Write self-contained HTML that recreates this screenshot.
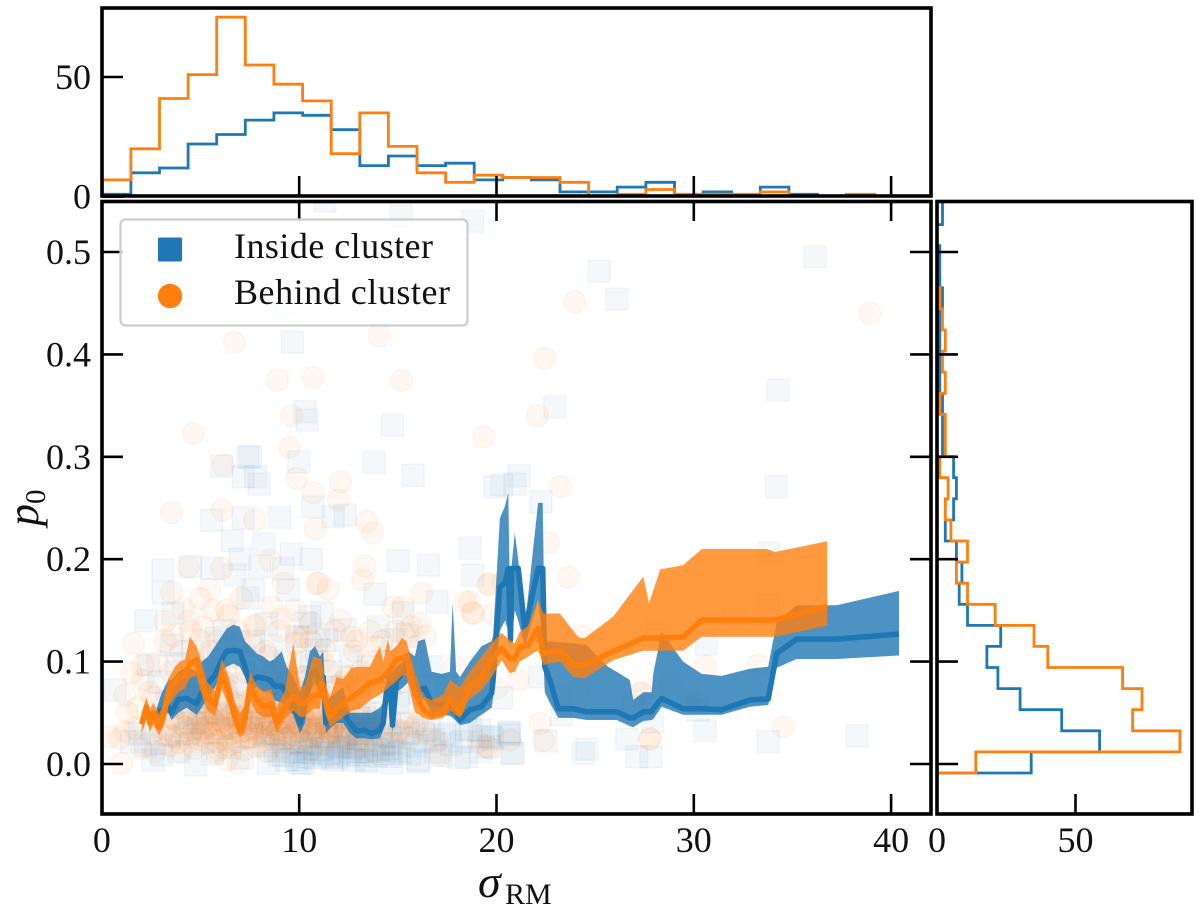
<!DOCTYPE html>
<html lang="en">
<head>
<meta charset="utf-8">
<title>p0 versus sigma RM</title>
<style>
html,body{margin:0;padding:0;background:#fff;width:1200px;height:906px;overflow:hidden}
svg{display:block}
text{font-family:"Liberation Serif","DejaVu Serif",serif;fill:#111}
.tick-label{font-size:36px}
</style>
</head>
<body>
<svg id="chart" xmlns="http://www.w3.org/2000/svg" width="1200" height="906" viewBox="0 0 1200 906">
  <defs>
    <clipPath id="clip-main"><rect x="102" y="201" width="829" height="613"/></clipPath>
    <clipPath id="clip-top"><rect x="102" y="8" width="829" height="188"/></clipPath>
    <clipPath id="clip-right"><rect x="937" y="201" width="255" height="613"/></clipPath>
  </defs>
  <g id="main-scatter" clip-path="url(#clip-main)"></g>
  <g id="main-bands" clip-path="url(#clip-main)"></g>
  <g id="top-hist" clip-path="url(#clip-top)"></g>
  <g id="right-hist" clip-path="url(#clip-right)"></g>
  <g id="ticks"></g>
  <rect x="102" y="8" width="829" height="188" fill="none" stroke="#000" stroke-width="3.6"/>
  <rect x="102" y="201.5" width="829" height="612.5" fill="none" stroke="#000" stroke-width="3.6"/>
  <rect x="937" y="201.5" width="255" height="612.5" fill="none" stroke="#000" stroke-width="3.6"/>
  <text x="478" y="897" font-size="46" font-style="italic">σ</text>
  <text x="505" y="904" font-size="30">RM</text>
  <g transform="translate(38,526) rotate(-90)">
    <text x="0" y="0" font-size="44" font-style="italic">p</text>
    <text x="22" y="7" font-size="29">0</text>
  </g>
  <g>
    <rect x="120.5" y="219.5" width="347" height="106" rx="5" ry="5" fill="#fff" fill-opacity="0.8" stroke="#ccc" stroke-width="2.2"/>
    <rect x="158" y="237.5" width="24" height="24" rx="1.5" fill="#1f77b4"/>
    <text x="234" y="258" font-size="36" textLength="199" lengthAdjust="spacing">Inside cluster</text>
    <circle cx="170" cy="296" r="12.2" fill="#ff7f0e"/>
    <text x="234" y="304" font-size="36" textLength="216" lengthAdjust="spacing">Behind cluster</text>
  </g>
</svg>
<script>
// ---- chart data -------------------------------------------------------
const xTicks = [0, 10, 20, 30, 40];
const yTicks = [0.0, 0.1, 0.2, 0.3, 0.4, 0.5];
const yTickLabels = ["0.0", "0.1", "0.2", "0.3", "0.4", "0.5"];
const topCountTicks = [0, 50];
const rightCountTicks = [0, 50];

const topBinStart = 0.02, topBinWidth = 1.45;
const topInside = [1,10,12,22,26,32,35,34,28,13,17,13,14,7,8,7,2,2,4,6,0,2,0,4,1,0,0,0];
const topBehind = [7,20,41,51,75,55,47,40,18,35,21,10,6,9,8,8,6,0,1,3,1,1,1,2,0,0,1,0];

const rightBinStart = -0.0088, rightBinWidth = 0.0206;
const rightInside = [34,58.7,45,30,22,18,23,11,8,9,7,3,6,7,6,2,2,2,1,1,1,1,2,1,1,0,2,2];
const rightBehind = [14,87.7,70.6,74,67,40,35,21,11,7,11,5,3,4,1,3,3,1,3,2,3,2,1,0,0,0,0,0];

const insideSigma = [9.66,10.29,10.4,14.73,6.07,7.4,7.53,9.98,13.79,15.78,7.16,7.79,7.97,19.92,20.26,5.56,7.16,9.02,10.71,11.72,12.32,11.3,15.15,18.79,9.3,25.2,26.1,36.15,22.96,34.28,21.14,20.93,22.25,34.18,33.8,33.75,32.1,30.64,28.15,30.2,30.56,33.77,38.27,27.9,26.6,27.83,27.1,18.65,18.79,20.26,22.2,19.16,19.33,20.65,20.78,22.5,24.58,24.4,23.3,26.9,13.84,16.99,15,16.54,11.15,12.3,14,14.75,15.27,16.7,11.39,10.54,11.64,13.4,14.6,14.7,16.03,17.38,18.48,18.48,19.67,20.68,20.85,3.1,4.5,5.56,6.74,8,9.2,3.1,2.23,3.6,7.67,9.45,5.8,7.4,8.35,9.87,10.54,3.53,2.35,0.66,10.3,10.88,1.5,2.69,3.03,2.6,4.76,8.43,9.87,10.46,10.2,9.36,10.04,11.7,12.74,13.42,16.03,19.6,20.6,8.2,6.6,7,9.6,10.6,1.9,2.2,3.4,3.9,4.3,5.1,5.6,6.1,6.5,7.1,7.6,8.1,8.8,9.1,9.5,10.1,10.7,11.1,11.4,12,12.3,12.8,13.1,13.7,14.2,14.9,15.2,15.6,16.4,16.9,17.7,18.1,11.5,11.9,12.1,12.5,13,13.2,13.9,14.3,14.5,9,9.7,10.4,10.8,2.9,3.3,3.8,4.2,4.6,5,5.4,5.9,6.2,6.8,7.2,7.7,8.1,8.6,9,9.3,9.9,10.2,10.6,11,11.6,12,12.6,13,13.5,14.1,14.4,15,15.5,16.1,17.4,18.8,4.4,4.9,5.3,6.4,7,7.9,8.4,8.9,10.9,11.8,12.4,13.3,15.4,16.6];
const insideP0 = [0.412,0.344,0.336,0.331,0.291,0.3,0.2995,0.295,0.2945,0.282,0.2806,0.2806,0.2734,0.2705,0.2725,0.238,0.24,0.241,0.251,0.2415,0.243,0.55,0.535,0.53,0.45,0.4814,0.4538,0.4954,0.349,0.3652,0.2815,0.2734,0.2559,0.2708,0.2057,0.155,0.1429,0.1172,0.1292,0.0527,0.0325,0.0218,0.0273,0.0413,0.0244,0.0071,0.0071,0.2106,0.1846,0.0645,0.0853,0.0332,0.0267,0.0315,0.0107,0.0225,0.0144,0.0105,0.0479,0.056,0.1657,0.1585,0.1985,0.1943,0.1477,0.1309,0.134,0.121,0.1477,0.095,0.121,0.0107,0.0071,0.0039,0.0071,0.001,0.0039,0.028,0.0071,0.0332,0.0267,0.03,0.0105,0.1895,0.1927,0.191,0.1846,0.1927,0.191,0.1667,0.14,0.1471,0.17,0.17,0.1227,0.1618,0.1374,0.1243,0.1438,0.1162,0.0967,0.0723,0.1377,0.1113,0.0218,0.0202,0.0088,0.0039,-0.001,0.0007,0.0039,0.0071,0.001,0.0039,0.0007,0.0039,0.0039,0.0022,0.002,0.0169,0.0283,0.215,0.218,0.2,0.205,0.2,0.03,0.018,0.028,0.012,0.03,0.022,0.01,0.035,0.016,0.006,0.027,0.04,0.013,0.025,0.045,0.02,0.033,0.014,0.027,0.01,0.021,0.016,0.03,0.012,0.019,0.013,0.026,0.01,0.022,0.012,0.019,0.006,0.011,0.006,0.017,0.008,0.009,0.012,0.008,0.01,0.015,0.009,0.012,0.015,0.006,0.08,0.06,0.098,0.075,0.11,0.088,0.06,0.1,0.13,0.078,0.105,0.12,0.09,0.115,0.07,0.1,0.085,0.06,0.1,0.125,0.09,0.075,0.105,0.065,0.095,0.07,0.1,0.06,0.125,0.07,0.075,0.06,0.045,0.035,0.05,0.048,0.04,0.055,0.03,0.06,0.05,0.045,0.035,0.05,0.04,0.035];
const insideDenseSigma = [8.3,8.7,9.2,9.5,9.9,10.3,10.6,10.9,11.2,11.6,
12.0,12.3,12.6,13.0,13.3,13.6,14.0,14.3,14.7,15.1,
15.5,15.9,16.3,16.8,17.2,17.6,18.2,18.7,19.2,19.8,
3.5,4.1,4.7,5.3,5.8,6.3,6.9,7.4,8.0,8.6,
9.2,9.8,10.3,11.0,11.7,12.4,13.1,13.8,14.6,15.3];
const insideDenseP0 = [0.018,0.03,0.008,0.022,0.035,0.012,0.028,0.02,0.009,0.032,
0.016,0.03,0.012,0.025,0.018,0.034,0.014,0.027,0.02,0.011,
0.03,0.018,0.033,0.024,0.008,0.03,0.022,0.034,0.012,0.025,
0.055,0.07,0.04,0.065,0.05,0.075,0.06,0.045,0.068,0.052,
0.078,0.042,0.07,0.036,0.06,0.028,0.075,0.045,0.038,0.068];

const behindSigma = [6.71,14.05,8.89,10.71,15.19,4.63,9.62,19.36,9.5,6.15,9.87,12.1,10.71,11.98,6.1,3.53,7.75,13.42,10.8,13.74,23.96,38.93,22.45,22.07,23.23,22.63,23.65,19.58,20.34,18.65,18.82,19.83,24.38,24.2,23.2,21.1,20,22.2,22.37,20.68,19.07,19.67,27.77,27.36,28.79,29.7,30.14,30.6,33.26,27.32,27.78,34.53,10.96,11.47,13.21,13.33,16.2,18.43,18.77,19.63,14.76,15.27,16.12,15.7,17.89,15.1,12.65,12.4,13.92,10.2,15.1,15.86,17.13,19.5,1.59,3.53,4.97,5.47,6.07,4.37,8.5,9.19,8.6,9.78,10.88,7.08,3.19,4.12,6.32,7.84,9.87,2.09,1.51,2.09,1.17,0.41,1.17,1,1.67,5.14,4.97,6.91,6.32,5.9,3.1,3.4,3.6,3.8,4,4.1,4.3,4.4,4.6,4.7,4.9,5,5.2,5.3,5.4,5.6,5.7,5.8,6,6.1,6.2,6.4,6.5,6.6,6.8,6.9,7,7.2,7.3,7.4,7.5,7.7,7.8,7.9,8,8.2,8.3,8.4,8.6,8.7,8.8,9,9.1,9.2,9.4,9.5,9.6,9.8,9.9,10,10.2,10.3,10.5,10.6,10.8,10.9,11,11.2,11.3,11.5,11.6,11.8,12,12.1,12.3,12.5,12.7,12.9,13,13.2,13.4,13.6,13.8,14,14.2,14.4,14.7,15,15.3,15.6,16,16.5,17,5.1,5.5,5.9,6.3,6.7,7.1,7.6,8.1,8.5,8.9,9.3,9.7,10.1,10.4,10.7,11.1,11.4,11.7,1.8,2.4,2.8,3.2,3.5,4,4.5,4.9,5.2,5.6,5.9,6.2,6.6,6.9,7.3,7.7,8,8.3,8.7,9,9.4,9.9,10.3,10.6,11.2,11.8,12.2,12.8,13.1,13.7,14.3,14.9,15.4,2,2.5,2.7,1.3,0.9];
const behindP0 = [0.4118,0.4183,0.3747,0.3773,0.3747,0.323,0.3401,0.3196,0.3093,0.292,0.279,0.2757,0.2649,0.2578,0.248,0.2454,0.2383,0.2366,0.23,0.2256,0.4512,0.4398,0.3962,0.3401,0.2708,0.2161,0.1823,0.1755,0.178,0.1585,0.1471,0.1462,0.125,0.0739,0.0657,0.082,0.0739,0.0397,0.0234,0.0234,0.0218,0.0153,0.0251,0.069,0.0771,0.0625,0.0608,0.0957,0.0967,0.069,0.0241,0.0364,0.1765,0.1706,0.1797,0.1934,0.1667,0.1585,0.1477,0.1758,0.1536,0.1536,0.1374,0.134,0.095,0.079,0.1243,0.0853,0.1146,0.1243,0.033,0.0364,0.0088,0.0169,0.1179,0.1677,0.1618,0.1709,0.191,0.1927,0.1992,0.1765,0.1536,0.1504,0.1765,0.1618,0.139,0.152,0.1504,0.1357,0.1243,0.0967,0.0886,0.082,0.0674,0.0267,0.0315,0.0007,0.035,0.134,0.121,0.0007,0.0039,0.0137,0.03,0.018,0.045,0.026,0.012,0.038,0.052,0.022,0.033,0.015,0.047,0.028,0.06,0.036,0.02,0.044,0.03,0.011,0.052,0.024,0.038,0.018,0.046,0.03,0.058,0.022,0.04,0.014,0.033,0.05,0.025,0.042,0.017,0.032,0.055,0.027,0.04,0.012,0.035,0.05,0.022,0.043,0.03,0.016,0.048,0.026,0.037,0.02,0.055,0.032,0.044,0.024,0.038,0.014,0.05,0.03,0.042,0.02,0.035,0.052,0.028,0.04,0.018,0.033,0.046,0.025,0.038,0.015,0.044,0.03,0.022,0.038,0.012,0.05,0.028,0.04,0.02,0.032,0.045,0.025,0.04,0.03,0.022,0.041,0.037,0.043,0.035,0.04,0.046,0.036,0.044,0.038,0.034,0.04,0.046,0.036,0.042,0.034,0.04,0.037,0.033,0.055,0.07,0.1,0.12,0.09,0.11,0.13,0.075,0.1,0.15,0.12,0.08,0.105,0.13,0.09,0.115,0.075,0.11,0.09,0.13,0.08,0.1,0.085,0.12,0.1,0.13,0.08,0.11,0.09,0.1,0.085,0.13,0.1,0.015,0.03,0.012,0.05,0.025];
const behindDenseSigma = [3.2,3.3,3.5,3.7,3.9,4.0,4.2,4.3,4.5,4.6,
4.8,4.9,5.0,5.1,5.3,5.4,5.5,5.6,5.8,5.9,
6.0,6.1,6.3,6.4,6.5,6.6,6.7,6.9,7.0,7.1,
7.2,7.3,7.5,7.6,7.7,7.8,8.0,8.1,8.2,8.3,
8.4,8.5,8.7,8.8,8.9,9.0,9.1,9.3,9.4,9.5,
9.6,9.7,9.8,10.0,10.1,10.2,10.3,10.4,10.6,10.7,
10.8,10.9,11.0,11.2,11.3,11.4,11.6,11.7,11.8,12.0,
12.2,12.4,12.5,12.7,12.9,13.1,13.3,13.5,13.8,14.1,
4.1,4.7,5.2,5.7,6.2,6.8,7.4,7.9,8.6,9.2,
9.9,10.5,11.1,11.5,11.9,12.3,12.6,13.0,13.7,14.6,
3.6,4.4,5.5,6.4,7.0,7.7,8.4,9.1,9.8,10.6,
11.3,12.1,12.9,13.6,14.2,14.8,15.3,15.9,16.4,2.6];
const behindDenseP0 = [0.034,0.052,0.027,0.043,0.021,0.06,0.036,0.048,0.028,0.066,
0.04,0.024,0.055,0.033,0.045,0.069,0.03,0.05,0.022,0.038,
0.058,0.042,0.027,0.064,0.035,0.048,0.02,0.044,0.031,0.056,
0.038,0.025,0.062,0.034,0.047,0.029,0.041,0.054,0.023,0.036,
0.06,0.043,0.028,0.05,0.033,0.067,0.04,0.025,0.052,0.036,
0.044,0.029,0.058,0.038,0.022,0.048,0.034,0.062,0.041,0.027,
0.053,0.036,0.046,0.024,0.058,0.039,0.03,0.05,0.037,0.026,
0.044,0.032,0.055,0.038,0.024,0.047,0.034,0.042,0.03,0.04,
0.072,0.08,0.068,0.085,0.075,0.09,0.07,0.082,0.078,0.088,
0.072,0.083,0.069,0.091,0.076,0.065,0.086,0.073,0.081,0.07,
0.125,0.14,0.11,0.145,0.12,0.135,0.105,0.142,0.118,0.138,
0.112,0.14,0.12,0.13,0.12,0.105,0.128,0.115,0.125,0.065];

const insideBandSigma = [2.77,3.02,3.36,3.53,3.87,4.29,4.8,5.05,5.39,5.73,6.07,6.32,6.66,6.99,7.25,7.5,7.84,8.18,8.51,8.77,9.11,9.36,9.7,10.04,10.29,10.54,10.8,11.05,11.22,11.35,11.56,11.9,12.23,12.57,12.91,13.33,13.67,14.09,14.26,14.43,14.6,14.73,14.93,15.27,15.53,15.86,16.03,16.37,16.71,17.22,17.64,17.78,17.95,18.15,18.65,19.24,19.75,19.83,20.17,20.43,20.6,20.71,20.77,20.93,21.1,21.44,22.11,22.34,22.45,22.7,23.13,23.89,24.57,25.65,26.09,26.76,26.93,27.44,27.86,27.95,28.37,29.46,30.4,31.41,32.84,33.77,34.2,35.21,37.24,40.4];
const insideMedian = [0.048,0.053,0.056,0.05,0.063,0.064,0.059,0.069,0.079,0.087,0.102,0.11,0.111,0.11,0.095,0.079,0.085,0.084,0.082,0.076,0.076,0.069,0.059,0.04,0.056,0.085,0.092,0.079,0.085,0.04,0.046,0.05,0.051,0.04,0.032,0.033,0.03,0.033,0.04,0.072,0.079,0.038,0.082,0.089,0.102,0.079,0.072,0.074,0.059,0.058,0.056,0.052,0.05,0.043,0.053,0.056,0.069,0.082,0.173,0.177,0.191,0.121,0.191,0.191,0.191,0.131,0.191,0.191,0.095,0.082,0.054,0.054,0.051,0.051,0.051,0.045,0.045,0.051,0.051,0.054,0.064,0.054,0.054,0.053,0.0625,0.0635,0.108,0.122,0.122,0.127];
const insideUpper = [0.054,0.069,0.082,0.082,0.09,0.095,0.09,0.1,0.105,0.115,0.125,0.132,0.136,0.134,0.12,0.115,0.108,0.105,0.1,0.103,0.11,0.095,0.085,0.07,0.085,0.11,0.115,0.105,0.11,0.06,0.065,0.07,0.075,0.05,0.05,0.05,0.05,0.055,0.06,0.085,0.09,0.09,0.095,0.1,0.11,0.105,0.12,0.122,0.09,0.088,0.09,0.158,0.09,0.085,0.1,0.115,0.12,0.125,0.24,0.252,0.265,0.125,0.195,0.226,0.2,0.135,0.255,0.255,0.12,0.12,0.119,0.118,0.116,0.095,0.09,0.082,0.0625,0.07,0.07,0.089,0.129,0.1,0.088,0.086,0.093,0.095,0.139,0.155,0.155,0.169];
const insideLower = [0.042,0.047,0.05,0.043,0.05,0.055,0.048,0.055,0.065,0.075,0.09,0.095,0.098,0.095,0.085,0.07,0.075,0.07,0.07,0.062,0.06,0.055,0.048,0.03,0.04,0.07,0.08,0.065,0.07,0.03,0.035,0.04,0.04,0.03,0.025,0.025,0.024,0.025,0.033,0.06,0.07,0.03,0.07,0.075,0.08,0.07,0.065,0.062,0.05,0.048,0.047,0.045,0.042,0.038,0.04,0.048,0.055,0.065,0.13,0.14,0.13,0.115,0.12,0.15,0.14,0.115,0.16,0.12,0.07,0.06,0.045,0.045,0.043,0.043,0.043,0.037,0.036,0.042,0.043,0.044,0.056,0.048,0.048,0.048,0.056,0.0576,0.094,0.1025,0.1025,0.106];

const behindBandSigma = [2.01,2.26,2.43,2.6,2.9,3.11,3.36,3.7,3.95,4.21,4.46,4.8,5.05,5.31,5.73,6.07,6.4,6.74,6.99,7.25,7.5,7.84,8.18,8.6,8.85,9.27,9.7,10.04,10.29,10.71,11.05,11.13,11.3,11.56,11.9,12.23,12.65,13.08,13.58,14.09,14.26,14.5,14.6,14.93,15.2,15.44,15.86,16.29,16.71,17.3,17.64,18.15,18.57,19.24,19.75,20.26,20.68,20.93,21.18,21.6,22.11,22.37,23.21,23.89,24.2,24.48,25.92,27.44,27.73,28.3,29.46,30.4,33.7,34.11,36.76];
const behindMedian = [0.039,0.056,0.04,0.05,0.036,0.046,0.069,0.08,0.085,0.087,0.098,0.102,0.082,0.066,0.058,0.089,0.072,0.046,0.033,0.043,0.076,0.063,0.056,0.059,0.04,0.056,0.066,0.059,0.059,0.067,0.067,0.079,0.063,0.046,0.054,0.059,0.065,0.071,0.079,0.082,0.085,0.09,0.092,0.102,0.103,0.105,0.069,0.053,0.048,0.05,0.064,0.05,0.074,0.085,0.102,0.113,0.103,0.103,0.1145,0.116,0.1325,0.108,0.111,0.097,0.097,0.097,0.11,0.123,0.123,0.123,0.124,0.1406,0.1406,0.1406,0.154];
const behindUpper = [0.05,0.065,0.053,0.06,0.049,0.059,0.083,0.095,0.1,0.102,0.124,0.115,0.1,0.081,0.071,0.103,0.087,0.061,0.049,0.057,0.09,0.077,0.071,0.073,0.055,0.071,0.118,0.075,0.077,0.105,0.103,0.103,0.08,0.065,0.085,0.083,0.094,0.095,0.095,0.115,0.1,0.122,0.11,0.115,0.123,0.12,0.09,0.066,0.0625,0.068,0.082,0.075,0.0886,0.105,0.118,0.128,0.121,0.118,0.129,0.135,0.16,0.147,0.147,0.13,0.123,0.123,0.144,0.183,0.157,0.19,0.194,0.21,0.21,0.207,0.2176];
const behindLower = [0.03,0.044,0.031,0.038,0.028,0.036,0.056,0.066,0.071,0.074,0.084,0.086,0.068,0.053,0.046,0.074,0.058,0.036,0.026,0.03,0.062,0.05,0.046,0.046,0.03,0.044,0.052,0.046,0.046,0.054,0.054,0.066,0.051,0.036,0.041,0.046,0.052,0.054,0.062,0.068,0.07,0.074,0.076,0.081,0.086,0.086,0.051,0.045,0.043,0.045,0.052,0.045,0.0625,0.072,0.085,0.1016,0.0886,0.09,0.1,0.105,0.111,0.0967,0.1,0.0853,0.084,0.0837,0.1016,0.1106,0.1106,0.1106,0.1106,0.1243,0.1243,0.1243,0.135];

// ---- axis functions ---------------------------------------------------
const SVGNS = "http://www.w3.org/2000/svg";
function xMain(s){ return 101.9 + s * 19.73; }
function yMain(p){ return 764 - p * 1024; }
function yTop(c){ return 196.7 - c * 2.394; }
function xRight(c){ return 937 + c * 2.77; }

function mk(tag, attrs, parent){
  const n = document.createElementNS(SVGNS, tag);
  for (const k in attrs) n.setAttribute(k, attrs[k]);
  parent.appendChild(n);
  return n;
}

// ---- scatter ----------------------------------------------------------
const scatterLayer = document.getElementById('main-scatter');
function drawInside(s, p){
  const cx = xMain(s), cy = yMain(p);
  const el = mk('rect', {x: cx - 11, y: cy - 11, width: 22, height: 22, fill: '#1f77b4', stroke: '#1f77b4',
    'fill-opacity': 0.05, 'stroke-opacity': 0.05, 'stroke-width': 1.5}, scatterLayer);
  
  
}
function drawBehind(s, p){
  const cx = xMain(s), cy = yMain(p);
  const el = mk('circle', {cx: cx, cy: cy, r: 11, fill: '#ff7f0e', stroke: '#ff7f0e',
    'fill-opacity': 0.06, 'stroke-opacity': 0.06, 'stroke-width': 1.5}, scatterLayer);
  
  
}
insideSigma.forEach(function(s, i){ drawInside(s, insideP0[i]); });
insideDenseSigma.forEach(function(s, i){ drawInside(s, insideDenseP0[i]); });
behindSigma.forEach(function(s, i){ drawBehind(s, behindP0[i]); });
behindDenseSigma.forEach(function(s, i){ drawBehind(s, behindDenseP0[i]); });

// ---- bands + running medians -----------------------------------------
function bandPath(sig, hi, lo){
  let d = '';
  sig.forEach(function(s, i){ d += (i ? 'L' : 'M') + xMain(s).toFixed(1) + ' ' + yMain(hi[i]).toFixed(1); });
  for (let i = sig.length - 1; i >= 0; i--) d += 'L' + xMain(sig[i]).toFixed(1) + ' ' + yMain(lo[i]).toFixed(1);
  return d + 'Z';
}
function linePts(sig, vals){
  return sig.map(function(s, i){ return xMain(s).toFixed(1) + ',' + yMain(vals[i]).toFixed(1); }).join(' ');
}
const bandLayer = document.getElementById('main-bands');
const insideBand = mk('path', {d: bandPath(insideBandSigma, insideUpper, insideLower), fill: '#1f77b4', 'fill-opacity': 0.8}, bandLayer);


const insideLine = mk('polyline', {points: linePts(insideBandSigma, insideMedian), fill: 'none', stroke: '#1f77b4', 'stroke-width': 5.5, 'stroke-linejoin': 'round'}, bandLayer);


const behindBand = mk('path', {d: bandPath(behindBandSigma, behindUpper, behindLower), fill: '#ff7f0e', 'fill-opacity': 0.8}, bandLayer);


const behindLine = mk('polyline', {points: linePts(behindBandSigma, behindMedian), fill: 'none', stroke: '#ff7f0e', 'stroke-width': 5.5, 'stroke-linejoin': 'round'}, bandLayer);



// ---- histograms -------------------------------------------------------
function topStep(counts){
  let d = 'M' + xMain(topBinStart).toFixed(1) + ' ' + yTop(0).toFixed(1);
  counts.forEach(function(c, i){
    const a = xMain(topBinStart + i * topBinWidth), b = xMain(topBinStart + (i + 1) * topBinWidth);
    d += 'L' + a.toFixed(1) + ' ' + yTop(c).toFixed(1) + 'L' + b.toFixed(1) + ' ' + yTop(c).toFixed(1);
  });
  return d;
}
function rightStep(counts){
  let d = 'M' + xRight(0).toFixed(1) + ' ' + yMain(rightBinStart).toFixed(1);
  counts.forEach(function(c, i){
    const a = yMain(rightBinStart + i * rightBinWidth), b = yMain(rightBinStart + (i + 1) * rightBinWidth);
    d += 'L' + xRight(c).toFixed(1) + ' ' + a.toFixed(1) + 'L' + xRight(c).toFixed(1) + ' ' + b.toFixed(1);
  });
  return d;
}
const topLayer = document.getElementById('top-hist');
const topA = mk('path', {d: topStep(topInside), fill: 'none', stroke: '#1f77b4', 'stroke-width': 2.8}, topLayer);


const topB = mk('path', {d: topStep(topBehind), fill: 'none', stroke: '#ff7f0e', 'stroke-width': 2.8}, topLayer);


const rightLayer = document.getElementById('right-hist');
const rightA = mk('path', {d: rightStep(rightInside), fill: 'none', stroke: '#1f77b4', 'stroke-width': 2.8}, rightLayer);


const rightB = mk('path', {d: rightStep(rightBehind), fill: 'none', stroke: '#ff7f0e', 'stroke-width': 2.8}, rightLayer);



// ---- ticks + labels ---------------------------------------------------
const tickLayer = document.getElementById('ticks');
function tick(x1, y1, x2, y2){
  const el = mk('line', {x1: x1, y1: y1, x2: x2, y2: y2, stroke: '#000', 'stroke-width': 2.6}, tickLayer);
  
  
}
function label(txt, x, y, anchor){
  const el = mk('text', {x: x, y: y, 'text-anchor': anchor, class: 'tick-label'}, tickLayer);
  el.textContent = txt;
  
  
}
xTicks.forEach(function(v){
  const x = xMain(v);
  if (v > 0) {
    tick(x, 814, x, 794);
    tick(x, 201, x, 221);
    tick(x, 196, x, 176);
  }
  label(String(v), x, 852, 'middle');
});
yTicks.forEach(function(v, i){
  const y = yMain(v);
  tick(102, y, 123, y);
  tick(931, y, 910, y);
  tick(937, y, 958, y);
  label(yTickLabels[i], 91, y + 12, 'end');
});
topCountTicks.forEach(function(v){
  const y = yTop(v);
  tick(102, y, 123, y);
  label(String(v), 91, y + 12, 'end');
});
rightCountTicks.forEach(function(v){
  const x = xRight(v);
  tick(x, 814, x, 794);
  label(String(v), x, 852, 'middle');
});
</script>
</body>
</html>
